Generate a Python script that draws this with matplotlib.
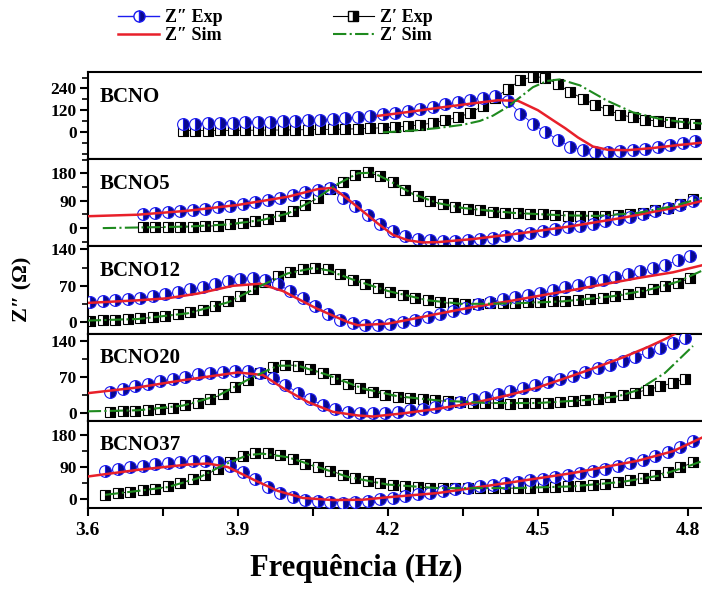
import numpy as np
import matplotlib
matplotlib.use("Agg")
import matplotlib.pyplot as plt
from matplotlib.lines import Line2D
from matplotlib.ticker import MultipleLocator, FixedLocator

plt.rcParams['font.family'] = ['Liberation Serif', 'DejaVu Serif']
plt.rcParams['font.weight'] = 'bold'
plt.rcParams['mathtext.default'] = 'regular'

# log10 frequency sweep: first point of each sample and sweep step
step = 0.025
names = ["BCNO", "BCNO5", "BCNO12", "BCNO20", "BCNO37"]
f_start = [3.790, 3.710, 3.605, 3.645, 3.635]

# Z'' experimental (blue circles)
zi_exp = [
    [43, 45, 47, 49, 51, 53, 55, 57, 60, 62, 65, 68, 72, 77, 83, 90, 98, 107, 117, 128,
     140, 153, 166, 178, 190, 200, 170, 102, 45, 0, -42, -80, -100, -110, -110, -107,
     -100, -92, -80, -70, -60, -52],
    [45, 48, 52, 55, 59, 63, 68, 73, 79, 85, 93, 100, 108, 117, 126, 130, 100, 72, 42, 15,
     -8, -25, -35, -40, -42, -42, -40, -37, -32, -27, -22, -16, -10, -4, 2, 8, 15, 22, 30,
     38, 47, 56, 66, 77, 88],
    [38, 40, 42, 44, 47, 50, 54, 58, 63, 68, 74, 80, 84, 86, 81, 73, 60, 46, 32, 16, 5, -2,
     -5, -6, -4, 0, 4, 9, 15, 21, 28, 34, 39, 44, 48, 53, 57, 62, 67, 72, 77, 82, 87, 92,
     98, 104, 111, 119, 128],
    [42, 47, 52, 57, 62, 67, 71, 75, 78, 80, 82, 81, 77, 68, 55, 40, 27, 16, 8, 3, 1, 0, 1,
     3, 6, 9, 13, 18, 22, 27, 32, 38, 43, 49, 55, 61, 67, 73, 80, 87, 94, 101, 109, 118,
     127, 136, 145],
    [78, 84, 89, 94, 98, 101, 105, 108, 108, 103, 92, 75, 55, 34, 17, 5, -3, -8, -10, -11,
     -9, -6, -2, 3, 8, 12, 17, 22, 27, 31, 36, 40, 44, 48, 53, 57, 61, 67, 72, 78, 85, 93,
     101, 110, 120, 133, 148, 164],
]

# Z' experimental (black squares)
zr_exp = [
    [8, 8, 8, 9, 9, 10, 10, 11, 11, 12, 13, 14, 15, 16, 18, 20, 24, 28, 33, 40, 50, 64, 82,
     105, 145, 190, 238, 285, 305, 300, 262, 220, 183, 150, 120, 96, 80, 68, 60, 54, 48, 42],
    [2, 2, 3, 4, 5, 6, 8, 12, 16, 22, 30, 41, 56, 76, 100, 127, 152, 175, 183, 170, 150,
     125, 105, 90, 78, 70, 63, 58, 54, 51, 49, 47, 45, 43, 41, 40, 40, 41, 43, 46, 51, 58,
     67, 80, 95],
    [3, 4, 5, 6, 7, 9, 12, 15, 19, 24, 31, 40, 51, 64, 77, 88, 96, 102, 105, 102, 92, 82,
     74, 66, 59, 53, 47, 42, 38, 36, 35, 35, 36, 37, 37, 38, 39, 40, 41, 42, 44, 47, 50,
     54, 58, 63, 69, 76, 85],
    [3, 4, 5, 6, 8, 11, 16, 21, 28, 37, 50, 64, 77, 89, 94, 92, 86, 77, 67, 57, 48, 41, 36,
     32, 29, 27, 25, 23, 22, 21, 20, 20, 19, 20, 20, 21, 22, 24, 26, 28, 31, 35, 40, 46,
     52, 59, 67],
    [11, 15, 20, 24, 28, 35, 44, 55, 67, 85, 105, 122, 130, 129, 123, 113, 100, 89, 79, 68,
     58, 50, 44, 39, 36, 33, 31, 30, 29, 29, 29, 29, 30, 30, 31, 32, 33, 35, 37, 40, 43,
     47, 52, 59, 67, 77, 89, 103],
]

# Z'' simulated (red)
zi_sim_f = [
    [4.18, 4.24, 4.30, 4.37, 4.42, 4.46, 4.50, 4.53, 4.555, 4.58, 4.61, 4.64, 4.68, 4.73, 4.78, 4.83],
    [3.60, 3.70, 3.80, 3.90, 4.00, 4.06, 4.09, 4.12, 4.15, 4.18, 4.21, 4.24, 4.27, 4.30,
     4.37, 4.47, 4.57, 4.67, 4.77, 4.83],
    [3.60, 3.70, 3.76, 3.82, 3.89, 3.944, 3.99, 4.058, 4.12, 4.14, 4.20, 4.238, 4.30, 4.37,
     4.44, 4.504, 4.57, 4.638, 4.70, 4.77, 4.83],
    [3.60, 3.70, 3.79, 3.90, 3.95, 3.99, 4.04, 4.09, 4.14, 4.17, 4.23, 4.30, 4.37, 4.44,
     4.50, 4.57, 4.62, 4.67, 4.72, 4.76, 4.80],
    [3.60, 3.70, 3.80, 3.84, 3.88, 3.93, 3.98, 4.03, 4.09, 4.15, 4.20, 4.30, 4.44, 4.57,
     4.70, 4.77, 4.83],
]
zi_sim = [
    [89, 110, 133, 158, 175, 172, 120, 65, 20, -30, -80, -98, -100, -88, -72, -58],
    [39, 44, 57, 76, 103, 128, 132, 95, 55, 15, -22, -40, -47, -46, -36, -16, 7, 34, 66, 90],
    [37, 42, 46, 55, 70, 74, 60, 26, 0, -6, -3, 4, 16, 29, 40, 51, 62, 74, 85, 96, 110],
    [39, 50, 64, 79, 74, 49, 22, 3, -4, -6, 0, 9, 20, 35, 50, 73, 90, 108, 128, 146, 168],
    [63, 82, 97, 100, 90, 55, 22, 2, -4, -3, 4, 16, 45, 73, 108, 135, 175],
]

# Z' simulated (green)
zr_sim_f = [
    [4.19, 4.25, 4.30, 4.35, 4.384, 4.41, 4.438, 4.464, 4.49, 4.518, 4.544, 4.584, 4.638,
     4.69, 4.744, 4.79, 4.83],
    [3.63, 3.70, 3.80, 3.88, 3.95, 4.00, 4.05, 4.10, 4.14, 4.17, 4.20, 4.25, 4.30, 4.35,
     4.45, 4.55, 4.62, 4.70, 4.77, 4.83],
    [3.60, 3.70, 3.80, 3.88, 3.95, 4.00, 4.05, 4.08, 4.13, 4.20, 4.28, 4.35, 4.45, 4.55,
     4.65, 4.72, 4.78, 4.83],
    [3.60, 3.70, 3.79, 3.86, 3.93, 3.98, 4.02, 4.08, 4.15, 4.22, 4.30, 4.40, 4.50, 4.60,
     4.66, 4.70, 4.754, 4.81],
    [3.635, 3.70, 3.76, 3.82, 3.87, 3.92, 3.95, 4.00, 4.06, 4.12, 4.20, 4.30, 4.45, 4.57,
     4.67, 4.74, 4.80, 4.83],
]
zr_sim = [
    [-2, 8, 22, 40, 61, 90, 136, 191, 247, 281, 290, 257, 173, 108, 72, 55, 46],
    [0, 2, 5, 12, 27, 48, 90, 145, 180, 182, 158, 112, 82, 66, 50, 42, 40, 50, 72, 100],
    [3, 6, 17, 38, 72, 94, 104, 100, 82, 60, 42, 35, 36, 40, 50, 62, 78, 100],
    [4, 6, 15, 34, 70, 92, 92, 74, 48, 33, 25, 20, 20, 26, 33, 45, 78, 130],
    [11, 22, 33, 58, 95, 124, 128, 118, 90, 62, 40, 30, 30, 35, 48, 65, 92, 108],
]

y_lims = [(-150, 330), (-60, 226), (-22, 146), (-14, 154), (-26, 222)]
y_ticks = [[0, 120, 240], [0, 90, 180], [0, 70, 140], [0, 70, 140], [0, 90, 180]]
y_minor = [60, 45, 35, 35, 45]

blue = '#1c1cf0'
navy = '#0a0a8c'
red = '#e8202a'
green = '#1e8a1e'

fig = plt.figure(figsize=(7.02, 5.96), dpi=100)
axes = fig.subplots(5, 1, sharex=True, gridspec_kw=dict(hspace=0))
fig.subplots_adjust(left=0.125, right=1.0, top=0.879, bottom=0.148)

for i, ax in enumerate(axes):
    fx_i = f_start[i] + step * np.arange(len(zi_exp[i]))
    fx_r = f_start[i] + step * np.arange(len(zr_exp[i]))
    ax.plot(fx_r, zr_exp[i], color='black', lw=0.6, marker='s', ms=7,
            fillstyle='right', mfc='black', mfcalt='white', mec='black', mew=0.8, zorder=2)
    ax.plot(fx_i, zi_exp[i], color=blue, lw=0.6, marker='o', ms=8.5,
            fillstyle='right', mfc=navy, mfcalt='white', mec=blue, mew=0.8, zorder=3)
    ax.plot(zi_sim_f[i], zi_sim[i], color=red, lw=1.8, zorder=4)
    ax.plot(zr_sim_f[i], zr_sim[i], color=green, lw=1.5, ls='-.', zorder=4)

    ax.set_ylim(*y_lims[i])
    ax.yaxis.set_major_locator(FixedLocator(y_ticks[i]))
    ax.yaxis.set_minor_locator(MultipleLocator(y_minor[i]))
    ax.text(0.02, 0.72, names[i], transform=ax.transAxes, fontsize=15,
            fontweight='bold', va='center', ha='left')
    for s in ['top', 'bottom', 'left']:
        ax.spines[s].set_linewidth(1.5)
    ax.spines['right'].set_visible(False)
    ax.tick_params(axis='y', which='major', direction='out', length=6, width=1.5,
                   labelsize=12.5, pad=2)
    ax.tick_params(axis='y', which='minor', direction='out', length=4, width=1.2)
    if i < 4:
        ax.tick_params(axis='x', which='both', bottom=False, labelbottom=False)

ax = axes[-1]
ax.set_xlim(3.6, 4.828)
ax.xaxis.set_major_locator(MultipleLocator(0.3))
ax.xaxis.set_minor_locator(MultipleLocator(0.15))
ax.xaxis.set_major_formatter(plt.FuncFormatter(lambda v, p: f"{v:.1f}"))
ax.tick_params(axis='x', which='major', direction='out', length=6, width=1.5,
               labelsize=14, pad=4)
ax.tick_params(axis='x', which='minor', direction='out', length=6, width=1.5)

fig.text(0.032, 0.515, "Z\u2033 (\u03a9)", rotation=90, fontsize=16, fontweight='bold',
         ha='center', va='center')
fig.text(0.508, 0.047, "Frequência (Hz)", fontsize=22, fontweight='bold',
         ha='center', va='center')

handles = [
    Line2D([], [], color=blue, lw=1, marker='o', ms=8, fillstyle='right', mfc=navy,
           mfcalt='white', mec=blue),
    Line2D([], [], color=red, lw=1.8),
    Line2D([], [], color='black', lw=0.8, marker='s', ms=7, fillstyle='right',
           mfc='black', mfcalt='white', mec='black'),
    Line2D([], [], color=green, lw=1.5, ls='-.'),
]
labels = ["Z\u2033 Exp", "Z\u2033 Sim", "Z\u2032 Exp", "Z\u2032 Sim"]
fig.legend(handles, labels, loc='upper left', bbox_to_anchor=(0.168, 0.985), ncol=2,
           frameon=False, fontsize=13, handlelength=2.3, handletextpad=0.3,
           columnspacing=6.1, labelspacing=0.05, borderpad=0, borderaxespad=0)

fig.savefig("out.png", dpi=100)
